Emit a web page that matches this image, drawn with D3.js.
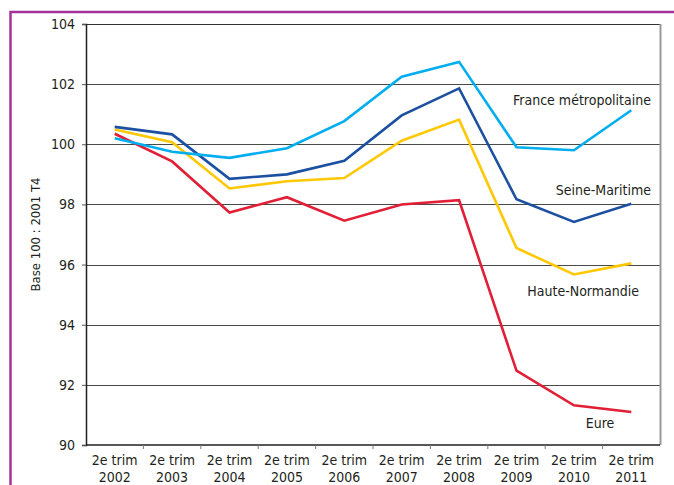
<!DOCTYPE html>
<html lang="fr">
<head>
<meta charset="UTF-8">
<title>Emploi - Haute-Normandie</title>
<script src="https://cdn.jsdelivr.net/npm/d3@7"></script>
<style>
body { margin: 0; background: #fff; }
svg { display: block; }
text { font-family: "Liberation Sans Narrow", "Arial Narrow", "DejaVu Sans Condensed", sans-serif; fill: #231f20; }
</style>
</head>
<body>
<script>
// categories (x axis)
const years = ["2002", "2003", "2004", "2005", "2006", "2007", "2008", "2009", "2010", "2011"];
const yTicks = [90, 92, 94, 96, 98, 100, 102, 104];

// series values
const france = [100.2, 99.75, 99.55, 99.87, 100.77, 102.25, 102.74, 99.9, 99.8, 101.13];
const seine = [100.58, 100.33, 98.85, 99.0, 99.45, 100.96, 101.86, 98.17, 97.42, 98.02];
const hauteNormandie = [100.49, 100.07, 98.53, 98.77, 98.88, 100.12, 100.82, 96.55, 95.67, 96.04];
const eure = [100.35, 99.43, 97.73, 98.24, 97.46, 98.0, 98.14, 92.47, 91.32, 91.1];

const seriesNames = ["France métropolitaine", "Seine-Maritime", "Haute-Normandie", "Eure"];
const seriesColors = ["#00aeef", "#1c50a0", "#ffc805", "#e11f36"];

const width = 674, height = 485;
const margin = {top: 24, right: 14, bottom: 40, left: 86};

const svg = d3.select("body").append("svg")
    .attr("width", width)
    .attr("height", height);

// purple frame
svg.append("path")
    .attr("d", `M10.5,${height + 5} V12 H${width + 5}`)
    .attr("fill", "none")
    .attr("stroke", "#a43398")
    .attr("stroke-width", 2.5);

const x = d3.scaleBand()
    .domain(years)
    .range([margin.left, width - margin.right]);

const y = d3.scaleLinear()
    .domain([90, 104])
    .range([height - margin.bottom, margin.top]);

// grid lines
svg.append("g")
    .selectAll("line")
    .data(yTicks.filter(d => d > 90))
    .join("line")
        .attr("x1", margin.left)
        .attr("x2", width - margin.right)
        .attr("y1", d => Math.round(y(d)) + 0.5)
        .attr("y2", d => Math.round(y(d)) + 0.5)
        .attr("stroke", d => d == 104 ? "#333" : "#4a4a4a")
        .attr("stroke-width", 1.2);

// right border of plot
svg.append("line")
    .attr("x1", width - margin.right + 0.5)
    .attr("x2", width - margin.right + 0.5)
    .attr("y1", margin.top)
    .attr("y2", height - margin.bottom)
    .attr("stroke", "#9a9a9a")
    .attr("stroke-width", 2);

// y axis
const yAxis = svg.append("g")
    .attr("transform", `translate(${margin.left},0)`)
    .call(d3.axisLeft(y).tickValues(yTicks).tickSize(4).tickPadding(7));
yAxis.select(".domain").attr("stroke", "#231f20").attr("stroke-width", 1.5);
yAxis.selectAll(".tick line").attr("stroke", "#555");
yAxis.selectAll("text").attr("font-size", 14).attr("fill", "#231f20")
    .style("font-family", null);

// x axis with ticks at band edges
const xAxis = svg.append("g")
    .attr("transform", `translate(0,${height - margin.bottom})`);
xAxis.append("line")
    .attr("x1", margin.left).attr("x2", width - margin.right)
    .attr("stroke", "#231f20").attr("stroke-width", 1.5);
xAxis.selectAll(".edge")
    .data(years.slice(1))
    .join("line")
        .attr("class", "edge")
        .attr("x1", d => x(d)).attr("x2", d => x(d))
        .attr("y1", 0).attr("y2", 4)
        .attr("stroke", "#777");
const xl = xAxis.selectAll(".lbl")
    .data(years)
    .join("text")
        .attr("class", "lbl")
        .attr("text-anchor", "middle")
        .attr("font-size", 14)
        .attr("x", d => x(d) + x.bandwidth() / 2);
xl.append("tspan").attr("x", d => x(d) + x.bandwidth() / 2).attr("y", 20).text("2e trim");
xl.append("tspan").attr("x", d => x(d) + x.bandwidth() / 2).attr("y", 37).text(d => d);

// y title
svg.append("text")
    .attr("transform", `translate(40,${(margin.top + height - margin.bottom) / 2}) rotate(-90)`)
    .attr("text-anchor", "middle")
    .attr("font-size", 13)
    .text("Base 100 : 2001 T4");

// lines
const line = d3.line()
    .x((d, i) => x(years[i]) + x.bandwidth() / 2)
    .y(d => y(d));

const allSeries = [france, seine, hauteNormandie, eure];
svg.append("g")
    .selectAll("path")
    .data(allSeries.slice().reverse())
    .join("path")
        .attr("d", line)
        .attr("fill", "none")
        .attr("stroke", (d, i) => seriesColors[3 - i])
        .attr("stroke-width", 2.6)
        .attr("stroke-linejoin", "miter");

// series labels
const labelPos = [
    {name: seriesNames[0], x: 651, y: 105, anchor: "end"},
    {name: seriesNames[1], x: 651, y: 195, anchor: "end"},
    {name: seriesNames[2], x: 639, y: 296, anchor: "end"},
    {name: seriesNames[3], x: 600, y: 428, anchor: "middle"}
];
svg.append("g")
    .selectAll("text")
    .data(labelPos)
    .join("text")
        .attr("x", d => d.x)
        .attr("y", d => d.y)
        .attr("text-anchor", d => d.anchor)
        .attr("font-size", 14)
        .text(d => d.name);
</script>
</body>
</html>
